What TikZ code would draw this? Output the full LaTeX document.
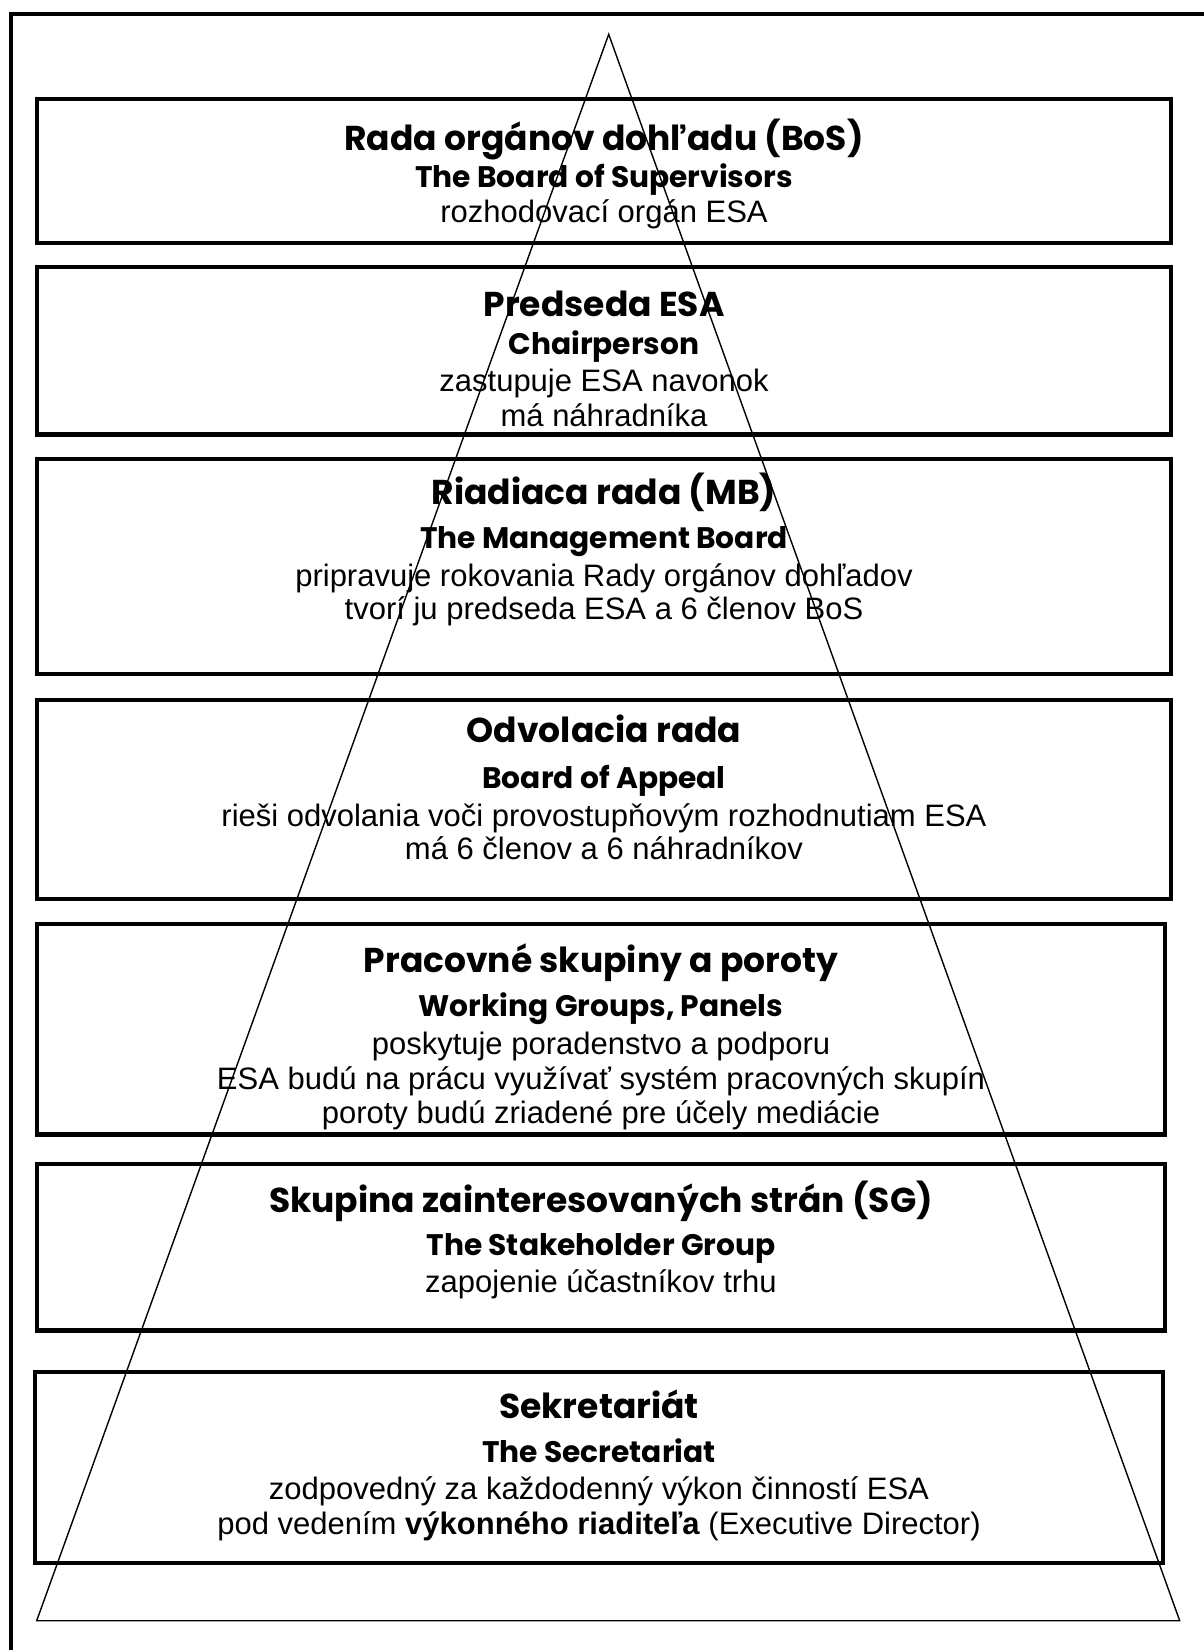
\documentclass[tikz,border=0pt]{standalone}
\usepackage{fontspec}
\setmainfont{Liberation Sans}
\newfontfamily\headfont{Poppins}
\begin{document}
\begin{tikzpicture}[x=1pt,y=-1pt,
  frame/.style={line width=4.3pt},
  box/.style={draw,line width=4.2pt,inner sep=0pt},
  ttl/.style={font=\headfont\bfseries\fontsize{34.5}{34.5}\selectfont,anchor=base,inner sep=0pt,yshift=-1pt},
  sub/.style={font=\headfont\bfseries\fontsize{29.7}{29.7}\selectfont,anchor=base,inner sep=0pt,yshift=-1.7pt},
  txt/.style={font=\fontsize{31}{31}\selectfont,anchor=base,inner sep=0pt,yshift=-1.7pt},
  tri/.style={line width=1.4pt,line join=miter}]
\useasboundingbox (0,0) rectangle (1203,1650);
\fill[white] (0,0) rectangle (1203,1650);
% outer frame (cut at right and bottom)
\draw[frame] (11,1660) -- (11,14) -- (1215,14);
% boxes
\node[box,minimum width=1134pt,minimum height=144pt] (b1) at (604,171) {};
\node[box,minimum width=1134pt,minimum height=167.5pt] (b2) at (604,350.75) {};
\node[box,minimum width=1134pt,minimum height=215pt] (b3) at (604,566.5) {};
\node[box,minimum width=1134pt,minimum height=199pt] (b4) at (604,799.5) {};
\node[box,minimum width=1128pt,minimum height=210.5pt] (b5) at (601,1029.25) {};
\node[box,minimum width=1128pt,minimum height=166.5pt] (b6) at (601,1247.25) {};
\node[box,minimum width=1128pt,minimum height=191pt] (b7) at (599,1467.5) {};
% box 1
\node[ttl] (t1a) at (604,149) {Rada orgánov dohľadu (BoS)};
\node[sub] (t1b) at (604,185.5) {The Board of Supervisors};
\node[txt] (t1c) at (604,221) {rozhodovací orgán ESA};
% box 2
\node[ttl] (t2a) at (604,315) {Predseda ESA};
\node[sub] (t2b) at (604,352.5) {Chairperson};
\node[txt] (t2c) at (604,389.5) {zastupuje ESA navonok};
\node[txt] (t2d) at (604,424.5) {má náhradníka};
% box 3
\node[ttl] (t3a) at (604,503.5) {Riadiaca rada (MB)};
\node[sub] (t3b) at (604,546.5) {The Management Board};
\node[txt] (t3c) at (604,584.5) {pripravuje rokovania Rady orgánov dohľadov};
\node[txt] (t3d) at (604,617.5) {tvorí ju predseda ESA a 6 členov BoS};
% box 4
\node[ttl] (t4a) at (604,741) {Odvolacia rada};
\node[sub] (t4b) at (604,786.5) {Board of Appeal};
\node[txt] (t4c) at (604,824.5) {rieši odvolania voči provostupňovým rozhodnutiam ESA};
\node[txt] (t4d) at (604,857.5) {má 6 členov a 6 náhradníkov};
% box 5
\node[ttl] (t5a) at (601,971) {Pracovné skupiny a poroty};
\node[sub] (t5b) at (601,1014.5) {Working Groups, Panels};
\node[txt] (t5c) at (601,1052.5) {poskytuje poradenstvo a podporu};
\node[txt] (t5d) at (601,1087.5) {ESA budú na prácu využívať systém pracovných skupín};
\node[txt] (t5e) at (601,1121.5) {poroty budú zriadené pre účely mediácie};
% box 6
\node[ttl] (t6a) at (601,1211) {Skupina zainteresovaných strán (SG)};
\node[sub] (t6b) at (601,1253.5) {The Stakeholder Group};
\node[txt] (t6c) at (601,1290.5) {zapojenie účastníkov trhu};
% box 7
\node[ttl] (t7a) at (599,1417) {Sekretariát};
\node[sub] (t7b) at (599,1460.5) {The Secretariat};
\node[txt] (t7c) at (599,1497.5) {zodpovedný za každodenný výkon činností ESA};
\node[txt] (t7d) at (599,1532.5) {pod vedením \textbf{výkonného riaditeľa} (Executive Director)};
% pyramid
\coordinate (apex) at (608.7,34.3);
\coordinate (bl) at (36.7,1620.7);
\coordinate (br) at (1179.7,1620.7);
\draw[tri] (apex) -- (bl) -- (br) -- cycle;
\end{tikzpicture}
\end{document}
